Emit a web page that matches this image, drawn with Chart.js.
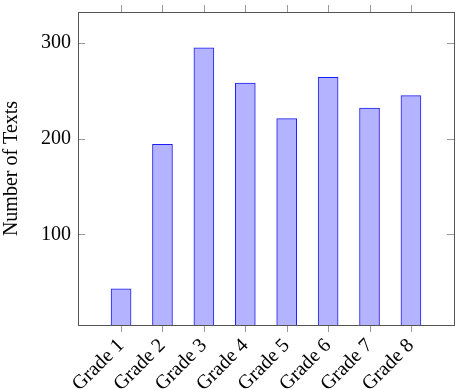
<!DOCTYPE html>
<html><head><meta charset="utf-8">
<script src="https://cdn.jsdelivr.net/npm/chart.js@4.4.0/dist/chart.umd.min.js"></script>
<style>html,body{margin:0;padding:0;background:#fff;}</style>
</head><body>
<canvas id="c" width="459" height="390" style="display:block;width:459px;height:390px"></canvas>
<script>
const categories = ['Grade 1','Grade 2','Grade 3','Grade 4','Grade 5','Grade 6','Grade 7','Grade 8'];
const textCounts = [43, 194, 295, 258, 221, 264, 232, 245];
const yTickValues = [100, 200, 300];
const yAxisLabel = 'Number of Texts';

const FONT = '"Liberation Serif", "Times New Roman", serif';

const framePlugin = {
  id: 'frame',
  afterDatasetsDraw(chart) {
    const {ctx, chartArea: a, scales: {x, y}} = chart;
    ctx.save();
    ctx.lineWidth = 1;
    ctx.strokeStyle = '#9a9a9a';
    ctx.beginPath();
    categories.forEach((c, i) => {
      const px = Math.round(x.getPixelForValue(i + 1)) + 0.5;
      ctx.moveTo(px, a.bottom); ctx.lineTo(px, a.bottom + 7);
      ctx.moveTo(px, a.top); ctx.lineTo(px, a.top - 7);
    });
    yTickValues.forEach(v => {
      const py = Math.round(y.getPixelForValue(v)) + 0.5;
      ctx.moveTo(a.left, py); ctx.lineTo(a.left + 7, py);
      ctx.moveTo(a.right, py); ctx.lineTo(a.right - 7, py);
    });
    ctx.stroke();
    ctx.strokeStyle = '#555';
    ctx.strokeRect(Math.round(a.left) + 0.5, Math.round(a.top) + 0.5,
                   Math.round(a.right - a.left), Math.round(a.bottom - a.top));
    ctx.restore();
  }
};

new Chart(document.getElementById('c'), {
  type: 'bar',
  data: {
    datasets: [{
      data: textCounts.map((v, i) => ({x: i + 1, y: v})),
      backgroundColor: 'rgb(179,179,255)',
      borderColor: 'rgb(30,30,240)',
      borderWidth: 1,
      barThickness: 20
    }]
  },
  options: {
    responsive: false,
    animation: false,
    layout: {padding: {top: 12, right: 5, left: 0, bottom: 0}},
    plugins: {legend: {display: false}, tooltip: {enabled: false}},
    scales: {
      x: {
        type: 'linear',
        offset: false,
        min: -0.04, max: 9.04,
        grid: {display: false, drawTicks: false, offset: false},
        border: {display: false},
        afterBuildTicks: s => { s.ticks = categories.map((c, i) => ({value: i + 1})); },
        afterFit: s => { s.height = 65; s.paddingLeft = 0; s.paddingRight = 0; },
        ticks: {
          autoSkip: false, minRotation: 45, maxRotation: 45, padding: 9,
          color: '#000', font: {family: FONT, size: 20},
          callback: (v, i) => categories[i]
        }
      },
      y: {
        min: 5.3, max: 332.4,
        grid: {display: false, drawTicks: false},
        border: {display: false},
        afterBuildTicks: s => { s.ticks = yTickValues.map(v => ({value: v})); },
        afterFit: s => { s.width = 78; s.paddingTop = 0; s.paddingBottom = 0; },
        ticks: {padding: 7, color: '#000', font: {family: FONT, size: 20}},
        title: {display: true, text: yAxisLabel, color: '#000', padding: 0,
                font: {family: FONT, size: 20}}
      }
    }
  },
  plugins: [framePlugin]
});
</script>
</body></html>
